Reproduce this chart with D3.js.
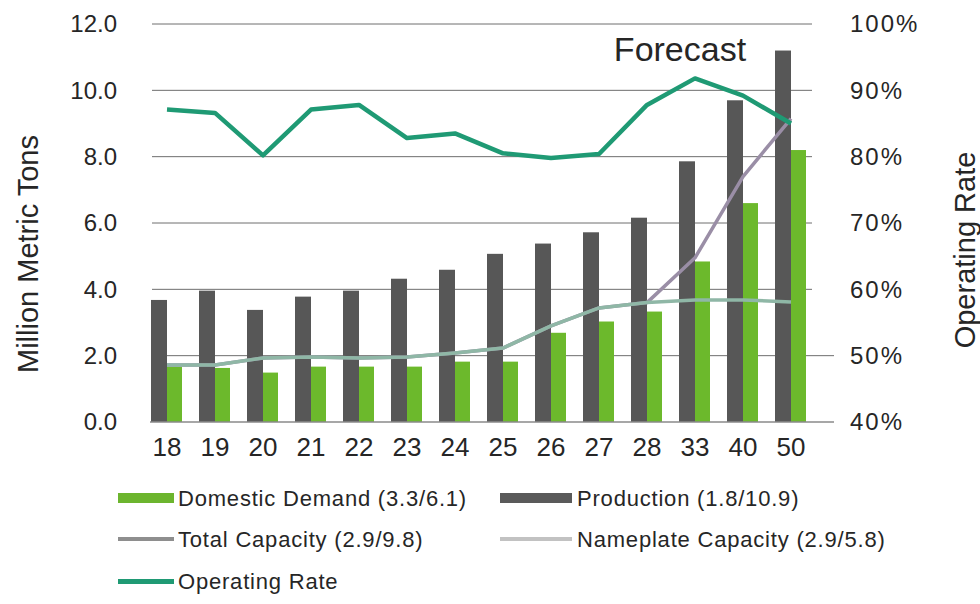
<!DOCTYPE html>
<html>
<head>
<meta charset="utf-8">
<script src="https://cdn.jsdelivr.net/npm/d3@7"></script>
<style>
  html, body { margin: 0; padding: 0; background: #fff; }
  svg { display: block; }
  text { font-family: "Liberation Sans", Arial, Helvetica, sans-serif; fill: #262626; }
</style>
</head>
<body>
<svg id="chart" width="980" height="604"></svg>
<script>
// Years (20xx) on the category axis
const years = ["18", "19", "20", "21", "22", "23", "24", "25", "26", "27", "28", "33", "40", "50"];

// Million metric tons
const production     = [3.68, 3.96, 3.38, 3.78, 3.96, 4.32, 4.59, 5.07, 5.38, 5.72, 6.16, 7.86, 9.70, 11.2];
const domesticDemand = [1.67, 1.63, 1.49, 1.67, 1.67, 1.67, 1.82, 1.82, 2.69, 3.03, 3.33, 4.84, 6.60, 8.20];
const totalCapacity  = [1.72, 1.72, 1.93, 1.96, 1.93, 1.96, 2.08, 2.23, 2.90, 3.44, 3.60, 4.95, 7.40, 9.15];
const nameplateCap   = [1.72, 1.72, 1.93, 1.96, 1.93, 1.96, 2.08, 2.23, 2.90, 3.44, 3.60, 3.68, 3.68, 3.62];

// Percent
const operatingRate  = [87.1, 86.6, 80.2, 87.1, 87.8, 82.8, 83.5, 80.5, 79.8, 80.4, 87.8, 91.8, 89.2, 85.0];

// Axis ticks
const leftTicks  = [0, 2, 4, 6, 8, 10, 12];
const rightTicks = [40, 50, 60, 70, 80, 90, 100];

// Legend entries
const legendItems = [
  { label: "Domestic Demand (3.3/6.1)",    kind: "bar",  color: "#6cb52e", col: 0, row: 0 },
  { label: "Production (1.8/10.9)",        kind: "bar",  color: "#5a5a5a", col: 1, row: 0 },
  { label: "Total Capacity (2.9/9.8)",     kind: "line", color: "#8e8e8e", col: 0, row: 1 },
  { label: "Nameplate Capacity (2.9/5.8)", kind: "line", color: "#c2c2c2", col: 1, row: 1 },
  { label: "Operating Rate",               kind: "line", color: "#1f9a74", col: 0, row: 2 }
];

const svg = d3.select("#chart");

const x = d3.scaleBand().domain(years).range([143, 815]);
const yL = d3.scaleLinear().domain([0, 12]).range([422, 24]);
const yR = d3.scaleLinear().domain([40, 100]).range([422, 24]);
const cx = d => x(d) + x.bandwidth() / 2;

// Gridlines
svg.append("g").selectAll("line")
  .data(leftTicks.filter(t => t > 0))
  .join("line")
  .attr("x1", 152)
  .attr("x2", t => t === 2 ? 834 : 812)
  .attr("y1", t => yL(t)).attr("y2", t => yL(t))
  .attr("stroke", "#6e6e6e").attr("stroke-width", 1);

// Left axis labels
const leftAxis = d3.axisLeft(yL).tickValues(leftTicks).tickFormat(d3.format(".1f")).tickSize(0).tickPadding(0);
svg.append("g").attr("transform", "translate(117,0)").call(leftAxis)
  .call(g => g.select(".domain").remove())
  .call(g => g.selectAll("text").attr("font-size", 24).attr("fill", "#262626")
    .style("font-family", '"Liberation Sans", Arial, sans-serif'));

// Right axis labels
const rightAxis = d3.axisRight(yR).tickValues(rightTicks).tickFormat(d => d + "%").tickSize(0).tickPadding(0);
svg.append("g").attr("transform", "translate(850,0)").call(rightAxis)
  .call(g => g.select(".domain").remove())
  .call(g => g.selectAll("text").attr("font-size", 24).attr("letter-spacing", 2).attr("fill", "#262626")
    .style("font-family", '"Liberation Sans", Arial, sans-serif'));

// Bars
const barW = 16;
svg.append("g").selectAll("rect")
  .data(years)
  .join("rect")
  .attr("x", d => cx(d) - barW)
  .attr("width", barW)
  .attr("y", (d, i) => yL(production[i]))
  .attr("height", (d, i) => yL(0) - yL(production[i]))
  .attr("fill", "#575757");

svg.append("g").selectAll("rect")
  .data(years)
  .join("rect")
  .attr("x", d => cx(d))
  .attr("width", barW - 1)
  .attr("y", (d, i) => yL(domesticDemand[i]))
  .attr("height", (d, i) => yL(0) - yL(domesticDemand[i]))
  .attr("fill", "#6cb92c");

// Baseline
svg.append("line")
  .attr("x1", 150).attr("x2", 834)
  .attr("y1", yL(0)).attr("y2", yL(0))
  .attr("stroke", "#8a8a8a").attr("stroke-width", 1.5);

// Capacity lines
const lineL = d3.line().x((d, i) => cx(years[i])).y(d => yL(d));
svg.append("path").datum(totalCapacity)
  .attr("d", lineL).attr("fill", "none")
  .attr("stroke", "#9a8ea6").attr("stroke-width", 3.5).attr("stroke-linejoin", "round");
svg.append("path").datum(nameplateCap)
  .attr("d", lineL).attr("fill", "none")
  .attr("stroke", "#8fb7a6").attr("stroke-width", 3.5).attr("stroke-linejoin", "round");

// Operating rate line
const lineR = d3.line().x((d, i) => cx(years[i])).y(d => yR(d));
svg.append("path").datum(operatingRate)
  .attr("d", lineR).attr("fill", "none")
  .attr("stroke", "#1f9a74").attr("stroke-width", 4.5).attr("stroke-linejoin", "round");

// Category labels
svg.append("g").selectAll("text")
  .data(years)
  .join("text")
  .attr("x", d => cx(d)).attr("y", 456)
  .attr("text-anchor", "middle").attr("font-size", 26)
  .text(d => d);

// Forecast annotation
svg.append("text").attr("x", 680).attr("y", 61)
  .attr("text-anchor", "middle").attr("font-size", 34).text("Forecast");

// Axis titles
svg.append("text")
  .attr("transform", "translate(38,254) rotate(-90)")
  .attr("text-anchor", "middle").attr("font-size", 29).text("Million Metric Tons");
svg.append("text")
  .attr("transform", "translate(975,250) rotate(-90)")
  .attr("text-anchor", "middle").attr("font-size", 29).text("Operating Rate");

// Legend
const colX = [118, 500];
const rowY = [498, 539, 581];
const lg = svg.append("g").selectAll("g")
  .data(legendItems)
  .join("g")
  .attr("transform", d => `translate(${colX[d.col]},${rowY[d.row]})`);
lg.append("rect")
  .attr("x", 0).attr("width", d => d.col === 0 ? 56 : 72)
  .attr("y", d => d.kind === "bar" ? -5 : -2)
  .attr("height", d => d.kind === "bar" ? 10 : (d.label === "Operating Rate" ? 5 : 4))
  .attr("fill", d => d.color);
lg.append("text")
  .attr("x", d => d.col === 0 ? 60 : 77).attr("y", 8)
  .attr("font-size", 22).attr("letter-spacing", 0.8)
  .text(d => d.label);
</script>
</body>
</html>
